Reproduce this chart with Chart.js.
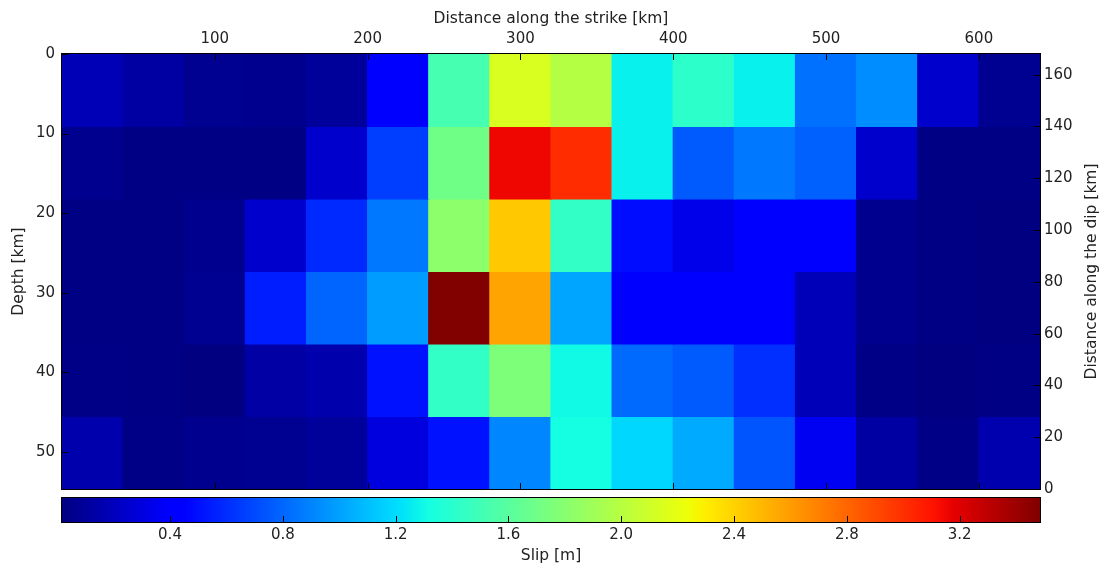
<!DOCTYPE html>
<html>
<head>
<meta charset="utf-8">
<script src="https://cdn.jsdelivr.net/npm/chart.js@4.4.1/dist/chart.umd.min.js"></script>
<style>
  html, body { margin: 0; padding: 0; background: #fff; }
  #wrap { position: relative; width: 1102px; height: 567px; }
  #main { position: absolute; left: 0; top: 0; width: 1102px; height: 494px; }
  #cbar { position: absolute; left: 0; top: 494px; width: 1102px; height: 73px; }
</style>
</head>
<body>
<div id="wrap">
  <div id="main"><canvas id="slipChart"></canvas></div>
  <div id="cbar"><canvas id="cbarChart"></canvas></div>
</div>
<script>
// fault patches: 16 along strike (40 km each), 6 down dip
const strikeCenters = [20, 60, 100, 140, 180, 220, 260, 300, 340, 380, 420, 460, 500, 540, 580, 620];
const depthEdges = [0, 9.11, 18.22, 27.33, 36.44, 45.55, 54.66];

// slip [m] per patch, top row first
const slipRow1 = [0.18, 0.12, 0.07, 0.06, 0.10, 0.44, 1.53, 2.14, 1.99, 1.27, 1.42, 1.27, 0.83, 0.93, 0.25, 0.07];
const slipRow2 = [0.06, 0.03, 0.03, 0.03, 0.25, 0.66, 1.70, 3.15, 3.01, 1.27, 0.76, 0.86, 0.78, 0.25, 0.03, 0.03];
const slipRow3 = [0.03, 0.03, 0.06, 0.25, 0.59, 0.86, 1.82, 2.44, 1.44, 0.49, 0.34, 0.44, 0.44, 0.06, 0.03, 0.02];
const slipRow4 = [0.03, 0.03, 0.07, 0.55, 0.79, 0.98, 3.48, 2.57, 1.01, 0.44, 0.42, 0.44, 0.19, 0.06, 0.03, 0.02];
const slipRow5 = [0.04, 0.03, 0.02, 0.13, 0.15, 0.51, 1.44, 1.76, 1.30, 0.81, 0.76, 0.61, 0.19, 0.04, 0.02, 0.03];
const slipRow6 = [0.15, 0.04, 0.06, 0.07, 0.10, 0.30, 0.51, 0.91, 1.32, 1.18, 1.03, 0.74, 0.36, 0.12, 0.04, 0.16];
const slipRows = [slipRow1, slipRow2, slipRow3, slipRow4, slipRow5, slipRow6];

const strikeTicks = [100, 200, 300, 400, 500, 600];
const depthTicks = [0, 10, 20, 30, 40, 50];
const dipTicks = [0, 20, 40, 60, 80, 100, 120, 140, 160];
const slipTicks = [0.4, 0.8, 1.2, 1.6, 2.0, 2.4, 2.8, 3.2];

const strikeMax = 640, depthMax = 54.66, dipMax = 168;
const slipMin = 0.017, slipMax = 3.485;

// matplotlib "jet"
const jetR = [[0, 0], [0.35, 0], [0.66, 1], [0.89, 1], [1, 0.5]];
const jetG = [[0, 0], [0.125, 0], [0.375, 1], [0.64, 1], [0.91, 0], [1, 0]];
const jetB = [[0, 0.5], [0.11, 1], [0.34, 1], [0.65, 0], [1, 0]];
const jetBreaks = [0, 0.11, 0.125, 0.34, 0.35, 0.375, 0.64, 0.65, 0.66, 0.89, 0.91, 1];

function piece(pts, t) {
  for (let i = 1; i < pts.length; i++) {
    if (t <= pts[i][0]) {
      const [t0, v0] = pts[i - 1], [t1, v1] = pts[i];
      return v0 + (v1 - v0) * (t - t0) / (t1 - t0);
    }
  }
  return pts[pts.length - 1][1];
}
function jetT(t) {
  t = Math.min(1, Math.max(0, t));
  const c = [jetR, jetG, jetB].map(p => Math.round(255 * piece(p, t)));
  return `rgb(${c[0]},${c[1]},${c[2]})`;
}
function jet(v) {
  return jetT((v - slipMin) / (slipMax - slipMin));
}

Chart.defaults.font.family = "'DejaVu Sans', sans-serif";
Chart.defaults.font.size = 15;
Chart.defaults.color = '#222';
const titleFont = { size: 15.5 };

// black frame + inward ticks like matplotlib
const frameTicks = {
  id: 'frameTicks',
  afterDraw(chart, args, opts) {
    const { ctx, chartArea: a } = chart;
    const len = opts.len || 6;
    ctx.save();
    ctx.strokeStyle = '#000';
    ctx.lineWidth = 1;
    ctx.strokeRect(Math.round(a.left) - 0.5, Math.round(a.top) - 0.5,
      Math.round(a.right - a.left) + 1, Math.round(a.bottom - a.top) + 1);
    ctx.beginPath();
    (opts.marks || []).forEach(m => {
      const sc = chart.scales[m.scale];
      sc.ticks.forEach(tk => {
        const p = Math.round(sc.getPixelForValue(tk.value)) + 0.5;
        m.edges.forEach(e => {
          if (e === 'top') { ctx.moveTo(p, a.top); ctx.lineTo(p, a.top + len); }
          if (e === 'bottom') { ctx.moveTo(p, a.bottom); ctx.lineTo(p, a.bottom - len); }
          if (e === 'left') { ctx.moveTo(a.left, p); ctx.lineTo(a.left + len, p); }
          if (e === 'right') { ctx.moveTo(a.right, p); ctx.lineTo(a.right - len, p); }
        });
      });
    });
    ctx.stroke();
    if (opts.rightTitle) {
      const sc = chart.scales[opts.rightTitle.scale];
      ctx.translate(sc.right - 10.5, (a.top + a.bottom) / 2);
      ctx.rotate(-Math.PI / 2);
      ctx.font = "15.5px 'DejaVu Sans', sans-serif";
      ctx.fillStyle = '#222';
      ctx.textAlign = 'center';
      ctx.textBaseline = 'middle';
      ctx.fillText(opts.rightTitle.text, 0, 0);
    }
    ctx.restore();
  }
};

const noGrid = { display: false, drawTicks: false };
const fixBox = size => s => {
  if (s.isHorizontal()) s.height = size; else s.width = size;
  s.paddingTop = s.paddingBottom = s.paddingLeft = s.paddingRight = 0;
};

new Chart(document.getElementById('slipChart'), {
  type: 'bar',
  data: {
    labels: strikeCenters,
    datasets: slipRows.map((row, i) => ({
      data: row.map(() => [depthEdges[i], depthEdges[i + 1]]),
      backgroundColor: row.map(jet),
      borderWidth: 0,
      borderSkipped: false,
      inflateAmount: 0.6,
      barPercentage: 1,
      categoryPercentage: 1,
      grouped: false,
      xAxisID: 'x',
      yAxisID: 'depth'
    }))
  },
  options: {
    responsive: true,
    maintainAspectRatio: false,
    animation: false,
    layout: { padding: { top: 0, right: 0, bottom: 5, left: 0 } },
    plugins: {
      legend: { display: false },
      tooltip: { enabled: false },
      frameTicks: {
        len: 6,
        marks: [
          { scale: 'strike', edges: ['top', 'bottom'] },
          { scale: 'depth', edges: ['left'] },
          { scale: 'dip', edges: ['right'] }
        ],
        rightTitle: { scale: 'dip', text: 'Distance along the dip [km]' }
      }
    },
    scales: {
      x: { type: 'category', display: false, afterFit: fixBox(0) },
      strike: {
        type: 'linear', position: 'top', min: 0, max: strikeMax, offset: false,
        grid: noGrid, border: { display: false },
        afterBuildTicks: s => { s.ticks = strikeTicks.map(v => ({ value: v })); },
        afterFit: fixBox(54),
        ticks: { padding: 6, autoSkip: false, maxRotation: 0, callback: v => String(v) },
        title: { display: true, text: 'Distance along the strike [km]', font: titleFont, padding: { top: 10, bottom: 0 } }
      },
      depth: {
        type: 'linear', position: 'left', reverse: true, min: 0, max: depthMax, offset: false,
        grid: noGrid, border: { display: false },
        afterBuildTicks: s => { s.ticks = depthTicks.map(v => ({ value: v })); },
        afterFit: fixBox(62),
        ticks: { padding: 7, autoSkip: false, callback: v => String(v) },
        title: { display: true, text: 'Depth [km]', font: titleFont, padding: { top: 10, bottom: 0 } }
      },
      dip: {
        type: 'linear', position: 'right', min: 0, max: dipMax, offset: false,
        grid: noGrid, border: { display: false },
        afterBuildTicks: s => { s.ticks = dipTicks.map(v => ({ value: v })); },
        afterFit: fixBox(62),
        ticks: { padding: 4, autoSkip: false, callback: v => String(v) }
      }
    }
  },
  plugins: [frameTicks]
});

// colour bar
new Chart(document.getElementById('cbarChart'), {
  type: 'bar',
  data: {
    labels: ['Slip'],
    datasets: [{
      data: [[slipMin, slipMax]],
      backgroundColor: c => {
        const chart = c.chart;
        if (!chart.chartArea) return jet(slipMin);
        const xs = chart.scales.x;
        const g = chart.ctx.createLinearGradient(xs.getPixelForValue(slipMin), 0, xs.getPixelForValue(slipMax), 0);
        jetBreaks.forEach(t => g.addColorStop(t, jetT(t)));
        return g;
      },
      borderWidth: 0,
      borderSkipped: false,
      barPercentage: 1,
      categoryPercentage: 1
    }]
  },
  options: {
    indexAxis: 'y',
    responsive: true,
    maintainAspectRatio: false,
    animation: false,
    layout: { padding: { top: 4, right: 62, bottom: 0, left: 62 } },
    plugins: {
      legend: { display: false },
      tooltip: { enabled: false },
      frameTicks: { len: 6, marks: [{ scale: 'x', edges: ['bottom'] }] }
    },
    scales: {
      x: {
        type: 'linear', position: 'bottom', min: slipMin, max: slipMax, offset: false,
        grid: noGrid, border: { display: false },
        afterBuildTicks: s => { s.ticks = slipTicks.map(v => ({ value: v })); },
        afterFit: fixBox(45),
        ticks: { padding: 4, autoSkip: false, maxRotation: 0, callback: v => v.toFixed(1) },
        title: { display: true, text: 'Slip [m]', font: titleFont, padding: { top: 0, bottom: 2 } }
      },
      y: { type: 'category', display: false, afterFit: fixBox(0) }
    }
  },
  plugins: [frameTicks]
});
</script>
</body>
</html>
